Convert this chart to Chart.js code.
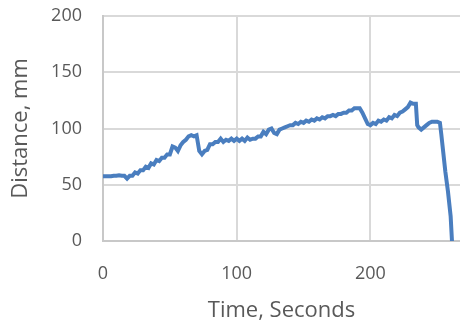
<!DOCTYPE html>
<html>
<head>
<meta charset="utf-8">
<script src="https://cdn.jsdelivr.net/npm/chart.js@4"></script>
<style>
  html, body { margin: 0; padding: 0; background: #ffffff; }
  #wrap { width: 460px; height: 329px; position: relative; }
</style>
</head>
<body>
<div id="wrap"><canvas id="distChart"></canvas></div>
<script>
// Time (s) and distance (mm)
const times = [
  0, 2, 4, 6, 8, 10, 12, 14, 16, 18,
  20, 22, 24, 26, 28, 30, 32, 34, 36, 38,
  40, 42, 44, 46, 48, 50, 52, 54, 56, 58,
  60, 62, 64, 66, 68, 70, 72, 74, 76, 78,
  80, 82, 84, 86, 88, 90, 92, 94, 96, 98,
  100, 102, 104, 106, 108, 110, 112, 114, 116, 118,
  120, 122, 124, 126, 128, 130, 132, 134, 136, 138,
  140, 142, 144, 146, 148, 150, 152, 154, 156, 158,
  160, 162, 164, 166, 168, 170, 172, 174, 176, 178,
  180, 182, 184, 186, 188, 190, 192, 194, 196, 198,
  200, 202, 204, 206, 208, 210, 212, 214, 216, 218,
  220, 222, 224, 226, 228, 230, 232, 234,
  235, 236, 238, 240, 242, 244, 246, 248, 250, 252, 253, 254, 256, 258, 260, 261
];
const distances = [
  57.5, 57.5, 57.5, 57.5, 58, 58, 58.5, 58, 58, 55.5,
  58, 58, 61, 60, 63, 63, 66, 65, 69, 68,
  72, 71, 74, 74, 77, 77, 84, 83, 80, 85,
  88, 90, 93, 94, 93, 94, 80, 77, 80, 81,
  86, 86, 88, 88, 91, 88, 90, 89, 91, 89,
  91, 89, 91, 89, 92, 90, 91, 91, 93, 93,
  97, 95, 99, 100, 96, 95, 99, 100, 101, 102,
  103, 103, 105, 104, 106, 105, 107, 106, 108, 107,
  109, 108, 110, 109, 111, 111, 112, 111, 113, 113,
  114, 114, 116, 116, 118, 118, 118, 114, 109, 104,
  103, 105, 104, 107, 106, 108, 107, 110, 109, 112,
  111, 114, 115, 117, 119, 123, 122, 122,
  103, 101, 99, 101, 103, 105, 106, 106, 106, 105, 95, 84, 62, 44, 22, 0
];
const xTicks = [0, 100, 200];
const yTicks = [0, 50, 100, 150, 200];

const gridColor = "#d9d9d9";
const textColor = "#595959";
const fontFamily = "'Open Sans', sans-serif";

new Chart(document.getElementById("distChart"), {
  type: "line",
  data: {
    datasets: [
      {
        data: times.map((t, i) => ({ x: t, y: distances[i] })),
        borderColor: "#4a7ebf",
        borderWidth: 4,
        pointRadius: 0,
        tension: 0,
        fill: false,
      },
    ],
  },
  options: {
    responsive: true,
    maintainAspectRatio: false,
    animation: false,
    layout: { padding: { top: 16, right: 0, left: 0, bottom: 0 } },
    plugins: { legend: { display: false }, tooltip: { enabled: false } },
    scales: {
      x: {
        type: "linear",
        min: 0,
        max: 267,
        afterBuildTicks: (s) => { s.ticks = xTicks.map((v) => ({ value: v })); },
        afterFit: (s) => { s.height = 88; },
        grid: { color: gridColor, lineWidth: 2, tickLength: 22, tickColor: "transparent" },
        border: { color: "#c8c8c8", width: 2 },
        ticks: { color: textColor, padding: 0, font: { family: fontFamily, size: 18 } },
        title: {
          display: true,
          text: "Time, Seconds",
          color: textColor,
          font: { family: fontFamily, size: 22 },
          padding: { top: 0, bottom: 5 },
        },
      },
      y: {
        min: 0,
        max: 200,
        afterBuildTicks: (s) => { s.ticks = yTicks.map((v) => ({ value: v })); },
        afterFit: (s) => { s.width = 103; },
        grid: { color: gridColor, lineWidth: 2, tickLength: 21, tickColor: "transparent" },
        border: { color: "#c8c8c8", width: 2 },
        ticks: { color: textColor, padding: 0, font: { family: fontFamily, size: 18 } },
        title: {
          display: true,
          text: "Distance, mm",
          color: textColor,
          font: { family: fontFamily, size: 22 },
          padding: { top: 8, bottom: 0 },
        },
      },
    },
  },
});
</script>
</body>
</html>
